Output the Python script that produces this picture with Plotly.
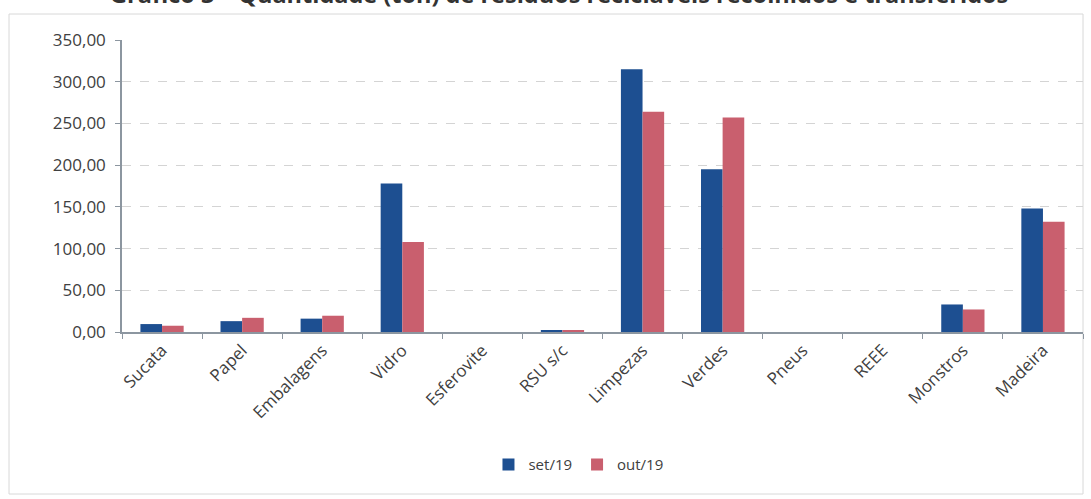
import plotly.graph_objects as go

categories = ["Sucata", "Papel", "Embalagens", "Vidro", "Esferovite", "RSU s/c",
              "Limpezas", "Verdes", "Pneus", "REEE", "Monstros", "Madeira"]
set19 = [9.5, 13.0, 16.0, 178.0, 0.0, 2.0, 315.0, 195.0, 0.0, 0.0, 33.0, 148.0]
out19 = [7.5, 17.0, 19.5, 108.0, 0.0, 1.5, 264.0, 257.0, 0.0, 0.0, 27.0, 132.0]
y_ticks = [0, 50, 100, 150, 200, 250, 300, 350]
title_text = "Gráfico 3 – Quantidade (ton) de resíduos recicláveis recolhidos e transferidos"

font_family = "Open Sans, Liberation Sans, Arial, sans-serif"

fig = go.Figure()
fig.add_trace(go.Bar(x=categories, y=set19, name="set/19", marker_color="#1d4f91",
                     marker_line_width=0))
fig.add_trace(go.Bar(x=categories, y=out19, name="out/19", marker_color="#c95f6e",
                     marker_line_width=0))

fig.update_layout(
    width=1091, height=499,
    margin=dict(l=122, r=8, t=40, b=167),
    paper_bgcolor="white", plot_bgcolor="white",
    separators=",.",
    barmode="group", bargap=0.46, bargroupgap=0.0,
    font=dict(family=font_family, color="#404040", size=13),
    showlegend=True,
    legend=dict(orientation="h", x=0.475, xanchor="center", y=-0.455, yanchor="middle",
                font=dict(size=15, color="#404040"), itemwidth=30,
                traceorder="normal"),
)

fig.update_xaxes(
    tickangle=-45, tickfont=dict(size=17, color="#404040"),
    showline=True, linecolor="#8c96a0", linewidth=1.5,
    ticks="outside", tickson="boundaries", ticklen=5, tickcolor="#8c96a0",
    showgrid=False, automargin=False,
)
fig.update_yaxes(
    range=[0, 350], tickvals=y_ticks, tickformat=".2f",
    tickfont=dict(size=17, color="#404040"),
    showline=True, linecolor="#8c96a0", linewidth=1.5,
    ticks="outside", ticklen=5, tickcolor="#8c96a0", ticklabelstandoff=6,
    showgrid=True, gridcolor="#d4d4d4", gridwidth=1, griddash="dash",
    zeroline=False, automargin=False,
)

# outer chart frame
fig.add_shape(type="rect", xref="paper", yref="paper",
              x0=-113/961, x1=1.0, y0=-162/292, y1=1 + 26/292,
              line=dict(color="#d8d8d8", width=1), layer="below")

# title partially cut off at the top, as in the reference
fig.add_annotation(text="<b>" + title_text + "</b>", xref="paper", yref="paper",
                   x=0.455, y=1, xanchor="center", yanchor="bottom", yshift=28,
                   showarrow=False, font=dict(size=23.5, color="#333333", family=font_family))

fig.write_html("out.html")
